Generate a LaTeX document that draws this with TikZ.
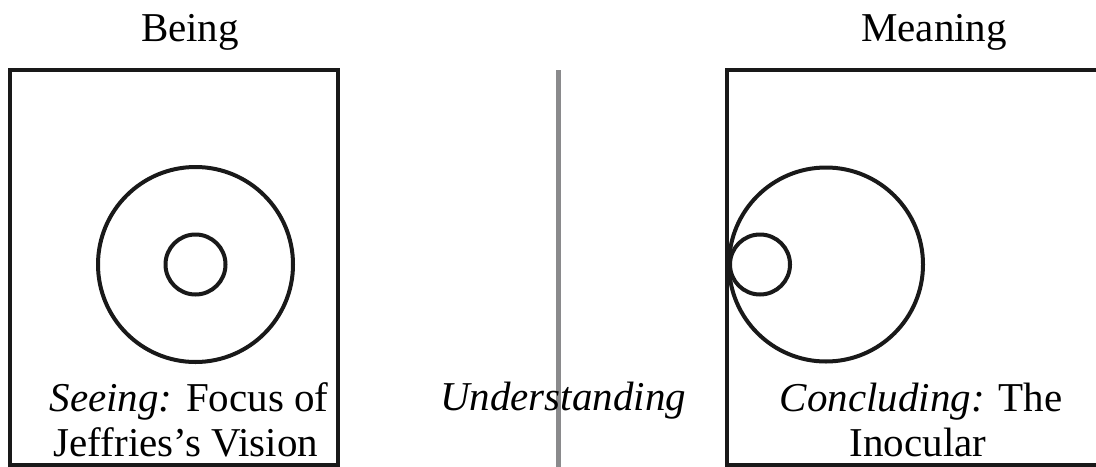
\documentclass[tikz,border=0pt]{standalone}
\usepackage{fontspec}
\setmainfont{Liberation Serif}
\usetikzlibrary{positioning}
\definecolor{DivideGray}{RGB}{138,138,140}

\begin{document}
\begin{tikzpicture}[
x=0.5pt,y=-0.5pt,
frame/.style={draw=black!90,line width=2pt},
ring/.style={circle,draw=black!90,line width=2pt,inner sep=0pt},
label/.style={anchor=base,font=\fontsize{20.5}{23}\selectfont,inner sep=0pt,align=center},
divider/.style={draw=DivideGray,line width=2.5pt}
]
\useasboundingbox (0,0) rectangle (1096,466);
% frames
\draw[frame] (10,70) rectangle (338,465);
\draw[frame] (726.5,70) rectangle (1120,465);
% circles
\node[ring,minimum size=97.5pt] (beingouter) at (195.5,264.5) {};
\node[ring,minimum size=30pt] (beinginner) at (195.5,264.5) {};
\node[ring,minimum size=97pt] (meaningouter) at (826,264.5) {};
\node[ring,minimum size=30pt] (meaninginner) at (760,264.5) {};
% divider
\coordinate (divtop) at (558.5,70);
\coordinate (divbot) at (558.5,470);
\draw[divider] (divtop)--(divbot);
% labels
\node[label] (being) at (190,41) {Being};
\node[label] (meaning) at (934,41) {Meaning};
\node[label] (seeing) at (189,411) {\textit{Seeing:} Focus of};
\node[label] (jeffries) at (186,456) {Jeffries’s Vision};
\node[label] (understanding) at (563,410) {\textit{Understanding}};
\node[label] (concluding) at (921,411) {\textit{Concluding:} The};
\node[label] (inocular) at (918,456) {Inocular};
\end{tikzpicture}
\end{document}
